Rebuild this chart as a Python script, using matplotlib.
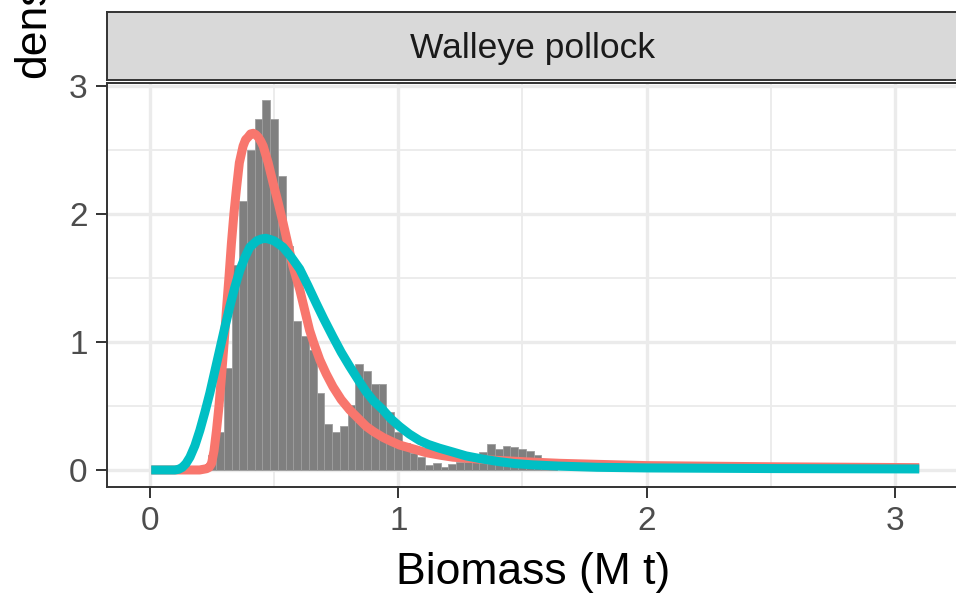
import matplotlib
matplotlib.use("Agg")
import matplotlib.pyplot as plt
import numpy as np

# histogram of biomass draws (density scale)
hist_start = 0.2036
bin_width = 0.0312
hist_heights = [0.02, 0.12, 0.3, 0.8, 1.6, 2.1, 2.5, 2.74, 2.89, 2.74, 2.30, 1.75,
                1.16, 1.05, 0.94, 0.60, 0.36, 0.30, 0.34, 0.51, 0.83, 0.77, 0.67,
                0.67, 0.45, 0.30, 0.21, 0.13, 0.10, 0.04, 0.057, 0.026, 0.047,
                0.065, 0.065, 0.07, 0.14, 0.20, 0.16, 0.19, 0.18, 0.16, 0.15,
                0.12, 0.05, 0.03]

# fitted density curves
red_x = [0.005, 0.10, 0.20, 0.228, 0.238, 0.248, 0.258, 0.268, 0.278, 0.288,
         0.298, 0.308, 0.318, 0.328, 0.338, 0.349, 0.360, 0.375, 0.385, 0.395,
         0.405, 0.416, 0.426, 0.436, 0.446, 0.456, 0.476, 0.496, 0.516, 0.536,
         0.556, 0.576, 0.603, 0.643, 0.660, 0.684, 0.710, 0.737, 0.770, 0.804,
         0.840, 0.871, 0.900, 0.938, 0.970, 1.005, 1.050, 1.113, 1.170, 1.220,
         1.290, 1.354, 1.430, 1.50, 1.58, 1.65, 1.80, 2.0, 2.5, 3.098]
red_y = [0.0, 0.0, 0.0, 0.01, 0.02, 0.05, 0.15, 0.31, 0.50, 0.73,
         0.98, 1.25, 1.50, 1.77, 2.00, 2.21, 2.40, 2.53, 2.58, 2.60,
         2.625, 2.63, 2.62, 2.60, 2.57, 2.53, 2.40, 2.24, 2.09, 1.93,
         1.76, 1.59, 1.41, 1.09, 0.99, 0.86, 0.75, 0.65, 0.55, 0.47,
         0.40, 0.34, 0.30, 0.255, 0.225, 0.195, 0.17, 0.135, 0.115, 0.10,
         0.09, 0.08, 0.072, 0.065, 0.058, 0.052, 0.044, 0.034, 0.025, 0.018]

teal_x = [0.005, 0.10, 0.115, 0.13, 0.145, 0.161, 0.181, 0.201, 0.221, 0.241,
          0.261, 0.281, 0.301, 0.322, 0.342, 0.362, 0.382, 0.402, 0.43, 0.45,
          0.466, 0.485, 0.50, 0.536, 0.57, 0.603, 0.636, 0.670, 0.70, 0.737,
          0.77, 0.804, 0.84, 0.871, 0.90, 0.938, 0.97, 1.005, 1.045, 1.086,
          1.12, 1.166, 1.22, 1.273, 1.34, 1.407, 1.47, 1.541, 1.649, 1.80,
          2.0, 2.5, 3.098]
teal_y = [0.0, 0.0, 0.005, 0.02, 0.05, 0.10, 0.19, 0.31, 0.45, 0.60,
          0.77, 0.94, 1.11, 1.28, 1.43, 1.56, 1.66, 1.74, 1.79, 1.805,
          1.81, 1.80, 1.79, 1.74, 1.66, 1.57, 1.44, 1.30, 1.18, 1.04,
          0.92, 0.81, 0.70, 0.61, 0.54, 0.47, 0.40, 0.34, 0.28, 0.23,
          0.20, 0.17, 0.14, 0.11, 0.085, 0.065, 0.05, 0.04, 0.03, 0.021,
          0.016, 0.011, 0.008]

x_ticks = [0, 1, 2, 3]
y_ticks = [0, 1, 2, 3]
panel_title = "Walleye pollock"

W, H = 956, 593
plt.rcParams["font.family"] = ["Liberation Sans", "DejaVu Sans"]

fig = plt.figure(figsize=(W / 100, H / 100), dpi=100)

# panel: left 107px, top 83px, bottom 487px, runs just past the right edge
p_left, p_right, p_top, p_bot = 107, 958, 83, 487
ax = fig.add_axes([p_left / W, 1 - p_bot / H, (p_right - p_left) / W, (p_bot - p_top) / H])

edges = hist_start + bin_width * np.arange(len(hist_heights))
ax.bar(edges, hist_heights, width=bin_width, align="edge",
       color="#7f7f7f", edgecolor="#9e9e9e", linewidth=0.6, zorder=2)
ax.plot(red_x, red_y, color="#F8766D", lw=6.5, solid_capstyle="butt",
        solid_joinstyle="round", zorder=3)
ax.plot(teal_x, teal_y, color="#00BFC4", lw=6.5, solid_capstyle="butt",
        solid_joinstyle="round", zorder=4)

ax.set_xlim(-0.173, 3.254)
ax.set_ylim(-0.133, 3.023)
ax.set_xticks(x_ticks)
ax.set_yticks(y_ticks)
ax.set_xticks([0.5, 1.5, 2.5], minor=True)
ax.set_yticks([0.5, 1.5, 2.5], minor=True)
ax.grid(which="major", color="#EBEBEB", lw=2.4, zorder=0)
ax.grid(which="minor", color="#EBEBEB", lw=1.3, zorder=0)
ax.set_axisbelow(True)
ax.tick_params(which="major", length=8, width=1.4, color="#333333",
               labelsize=24, labelcolor="#4D4D4D", pad=6)
ax.tick_params(which="minor", length=0)
for side in ["left", "bottom", "top"]:
    ax.spines[side].set_color("#333333")
    ax.spines[side].set_linewidth(1.4)
ax.spines["right"].set_visible(False)

# facet strip
s_top, s_bot = 12, 80
sax = fig.add_axes([p_left / W, 1 - s_bot / H, (p_right - p_left) / W, (s_bot - s_top) / H])
sax.set_facecolor("#D9D9D9")
sax.set_xticks([])
sax.set_yticks([])
for side in ["left", "bottom", "top"]:
    sax.spines[side].set_color("#333333")
    sax.spines[side].set_linewidth(1.4)
sax.spines["right"].set_visible(False)
sax.text(0.5, 0.46, panel_title, transform=sax.transAxes, ha="center", va="center",
         fontsize=25.5, color="#1A1A1A")

fig.text(533 / W, 1 - 584 / H, "Biomass (M t)", ha="center", va="baseline",
         fontsize=32, color="black")
fig.text(13 / W, 1 - 78 / H, "density", rotation=90, ha="left", va="bottom",
         fontsize=32, color="black")

fig.savefig("out.png", dpi=100)
